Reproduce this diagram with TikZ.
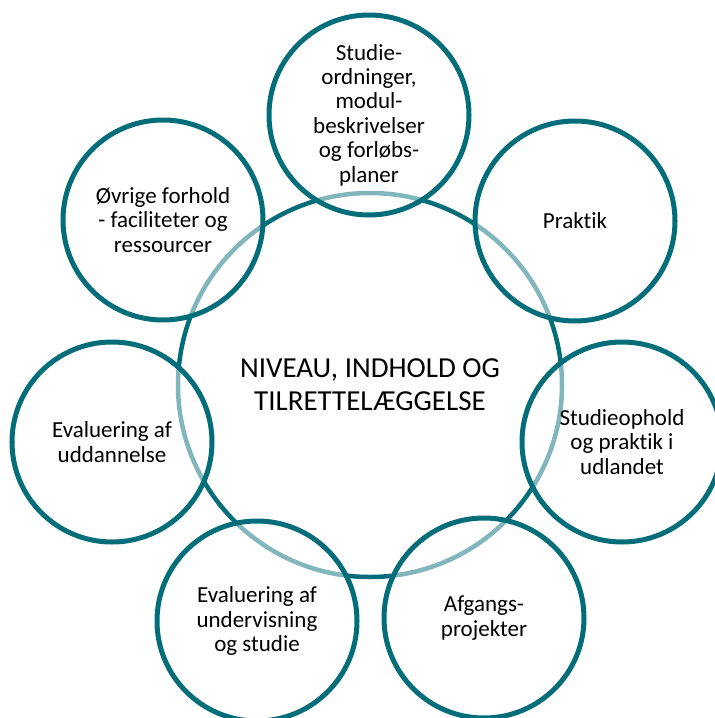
\documentclass[tikz,border=0pt]{standalone}
\usepackage{fontspec}
\setmainfont{Carlito}[Ligatures=NoCommon]
\definecolor{tealdark}{HTML}{036D79}

\begin{document}
\begin{tikzpicture}[x=1pt, y=-1pt,
  hub/.style={circle, draw=tealdark, line width=4.5pt, minimum size=384pt, inner sep=0pt, align=center, font=\fontsize{29}{33}\selectfont},
  petal/.style={circle, draw=tealdark, line width=5pt, fill=white, fill opacity=0.5, text opacity=1, minimum size=200pt, inner sep=0pt, align=center, font=\fontsize{23}{24.4}\selectfont}]
\useasboundingbox (0,0) rectangle (715,718);

\node[hub] (niveau) at (370,385) {NIVEAU, INDHOLD OG\\TILRETTELÆGGELSE};

\node[petal] (ordning) at (369,115) {Studie-\\ordninger,\\modul-\\beskrivelser\\og forløbs-\\planer};
\node[petal] (praktik) at (575,221) {Praktik};
\node[petal] (udland) at (622,442) {Studieophold\\og praktik i\\udlandet};
\node[petal] (afgang) at (484,618) {Afgangs-\\projekter};
\node[petal] (evalund) at (257,621) {Evaluering af\\undervisning\\og studie};
\node[petal] (evaludd) at (112,442) {Evaluering af\\uddannelse};
\node[petal] (ovrige) at (163,220) {Øvrige forhold\\- faciliteter og\\ressourcer};
\end{tikzpicture}
\end{document}
